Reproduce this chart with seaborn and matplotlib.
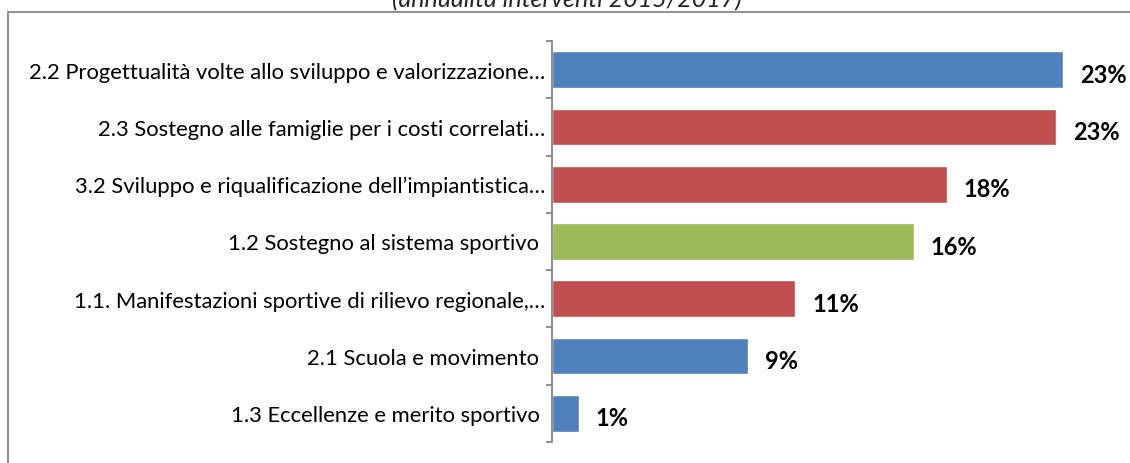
import matplotlib
matplotlib.use("Agg")
import matplotlib.pyplot as plt
import seaborn as sns
import pandas as pd
from matplotlib.patches import Rectangle
from matplotlib.ticker import FixedLocator

categories = [
    "2.2 Progettualità volte allo sviluppo e valorizzazione…",
    "2.3 Sostegno alle famiglie per i costi correlati…",
    "3.2 Sviluppo e riqualificazione dell’impiantistica…",
    "1.2 Sostegno al sistema sportivo ",
    "1.1. Manifestazioni sportive di rilievo regionale,…",
    "2.1 Scuola e movimento ",
    "1.3 Eccellenze e merito sportivo ",
]
values = [22.9, 22.6, 17.7, 16.2, 10.9, 8.8, 1.2]
value_labels = ["23%", "23%", "18%", "16%", "11%", "9%", "1%"]
bar_colors = ["#4F81BD", "#C0504D", "#C0504D", "#9BBB59", "#C0504D", "#4F81BD", "#4F81BD"]
title = "(annualità interventi 2015/2017)"

sns.set_theme(style="white")
plt.rcParams["font.family"] = ["Lato", "DejaVu Sans"]

W, H = 1130, 464
fig = plt.figure(figsize=(W / 100, H / 100), dpi=100)
fig.patch.set_facecolor("white")

# outer border
fig.add_artist(Rectangle((8 / W, -10 / H), (W + 20) / W, (H - 13 + 10) / H,
                         transform=fig.transFigure, fill=False,
                         edgecolor="#868686", linewidth=1.3))

ax = fig.add_axes([552 / W, (H - 443) / H, 548 / W, (443 - 42) / H])
df = pd.DataFrame({"cat": categories, "val": values})
sns.barplot(data=df, y="cat", x="val", hue="cat", palette=bar_colors,
            legend=False, width=0.64, ax=ax, saturation=1, orient="h")

ax.set_xlim(0, 24.55)
ax.set_ylim(6.5, -0.5)
ax.set_xlabel("")
ax.set_ylabel("")
ax.set_xticks([])
for s in ["top", "right", "bottom"]:
    ax.spines[s].set_visible(False)
ax.spines["left"].set_color("#868686")
ax.spines["left"].set_linewidth(1.3)
ax.tick_params(axis="y", which="major", left=False, length=0, pad=5,
               labelsize=15.85, labelcolor="black")
ax.yaxis.set_minor_locator(FixedLocator([i - 0.5 for i in range(len(categories) + 1)]))
ax.tick_params(axis="y", which="minor", left=True, length=4, width=1.3,
               color="#868686", direction="out")

for i, (v, t) in enumerate(zip(values, value_labels)):
    ax.text(v + 0.75, i + 0.08, t, va="center", ha="left", fontsize=17,
            fontweight="bold", color="black")

fig.text(567 / W, (H - 7) / H, title, ha="center", va="baseline",
         fontsize=18, style="italic")

fig.savefig("out.png", dpi=100, facecolor="white")
